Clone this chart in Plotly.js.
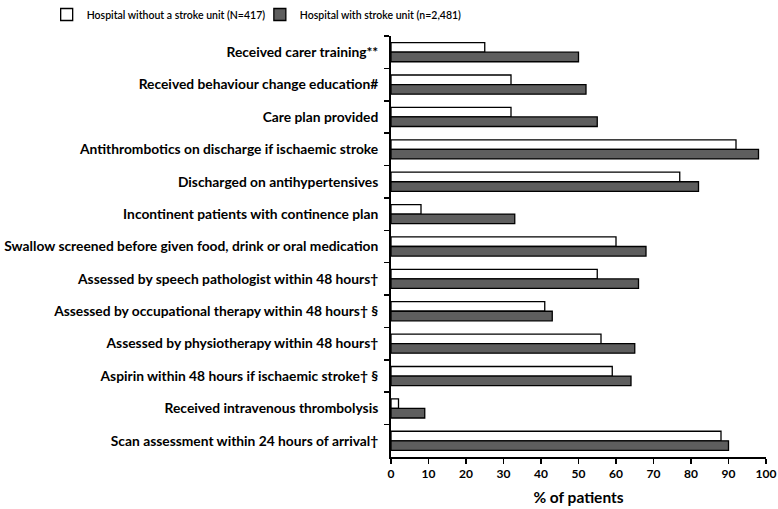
<!DOCTYPE html>
<html>
<head>
<meta charset="utf-8">
<script src="https://cdn.plot.ly/plotly-3.0.1.min.js"></script>
<style>body{margin:0;background:#fff}</style>
</head>
<body>
<div id="chart" style="width:778px;height:509px"></div>
<script>
var measures = [
  "Received carer training**",
  "Received behaviour change education#",
  "Care plan provided",
  "Antithrombotics on discharge if ischaemic stroke",
  "Discharged on antihypertensives",
  "Incontinent patients with continence plan",
  "Swallow screened before given food, drink or oral medication",
  "Assessed by speech pathologist within 48 hours\u2020",
  "Assessed by occupational therapy within 48 hours\u2020 \u00a7",
  "Assessed by physiotherapy within 48 hours\u2020",
  "Aspirin within 48 hours if ischaemic stroke\u2020 \u00a7",
  "Received intravenous thrombolysis",
  "Scan assessment within 24 hours of arrival\u2020"
];
var withoutUnit = [25, 32, 32, 92, 77, 8, 60, 55, 41, 56, 59, 2, 88];
var withUnit = [50, 52, 55, 98, 82, 33, 68, 66, 43, 65, 64, 9, 90];

var font = "Lato, 'Open Sans', sans-serif";

var trace1 = {
  x: withoutUnit,
  y: measures,
  type: "bar",
  orientation: "h",
  name: "Hospital without a stroke unit (N=417)",
  marker: {color: "#ffffff", line: {color: "#000000", width: 1.3}},
  legend: "legend",
  hoverinfo: "x"
};
var trace2 = {
  x: withUnit,
  y: measures,
  type: "bar",
  orientation: "h",
  name: "Hospital with stroke unit (n=2,481)",
  marker: {color: "#5e5e5e", line: {color: "#000000", width: 1.3}},
  legend: "legend2",
  hoverinfo: "x"
};

// one legend per trace so both sit on a single row above the plot
var legendStyle = function(xpos) {
  return {
    orientation: "h",
    xref: "container",
    yref: "container",
    x: xpos,
    y: 1,
    xanchor: "left",
    yanchor: "top",
    bgcolor: "rgba(0,0,0,0)",
    font: {size: 10.5, family: font, weight: 600},
    itemwidth: 30
  };
};

var layout = {
  width: 778,
  height: 509,
  margin: {l: 391, r: 12, t: 36, b: 52, autoexpand: false},
  paper_bgcolor: "#ffffff",
  plot_bgcolor: "#ffffff",
  font: {family: font, color: "#000000"},
  barmode: "group",
  bargap: 0.41,
  bargroupgap: 0,
  showlegend: true,
  legend: legendStyle(0.06),
  legend2: legendStyle(0.334),
  xaxis: {
    range: [0, 100],
    dtick: 10,
    showgrid: false,
    zeroline: false,
    showline: true,
    linecolor: "#000000",
    linewidth: 2,
    ticks: "outside",
    ticklen: 5,
    tickwidth: 1.5,
    tickcolor: "#000000",
    tickfont: {size: 12, family: font, weight: "bold"},
    title: {text: "% of patients", font: {size: 15.5, family: font, weight: "bold"}, standoff: 12}
  },
  yaxis: {
    autorange: "reversed",
    type: "category",
    showgrid: false,
    zeroline: false,
    showline: true,
    linecolor: "#000000",
    linewidth: 2,
    ticks: "outside",
    tickson: "boundaries",
    ticklen: 5,
    tickwidth: 1.5,
    tickcolor: "#000000",
    ticklabelstandoff: 8,
    tickfont: {size: 13.8, family: font, weight: "bold"}
  }
};

Plotly.newPlot("chart", [trace1, trace2], layout, {displayModeBar: false, staticPlot: true});
</script>
</body>
</html>
